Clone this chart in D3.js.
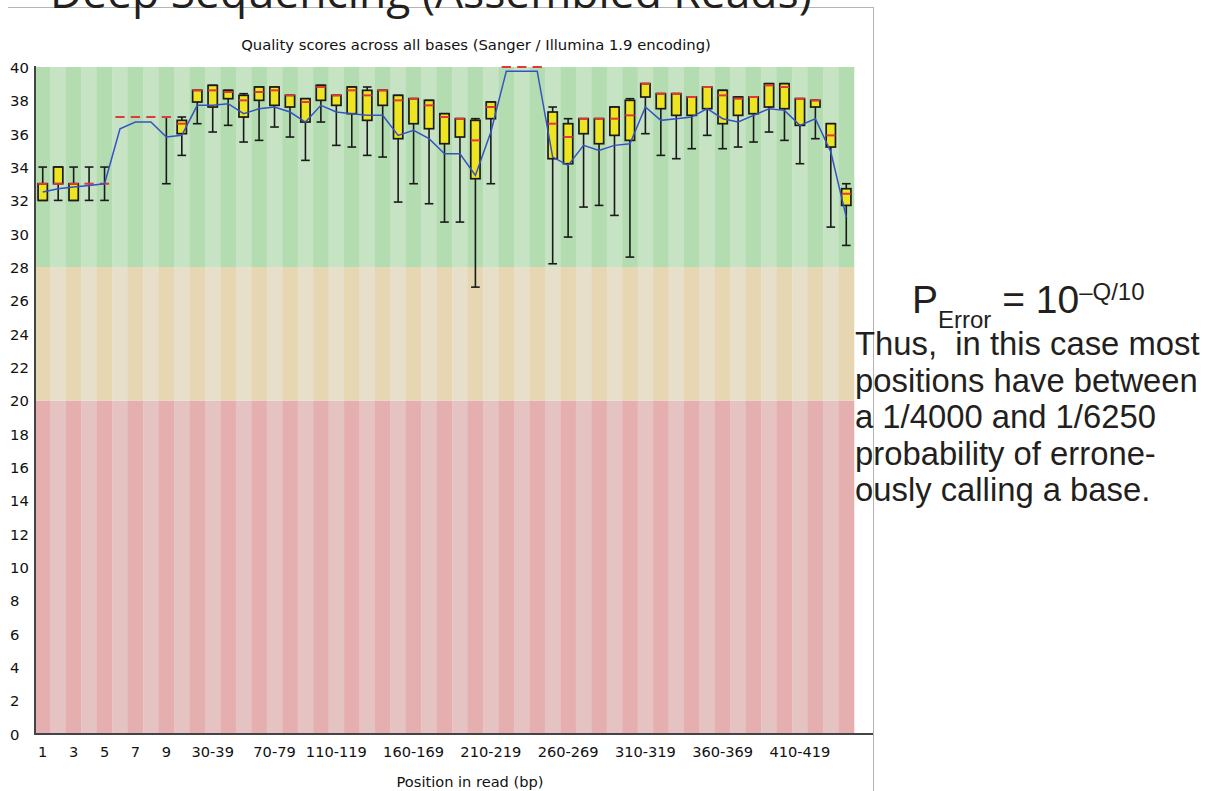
<!DOCTYPE html>
<html>
<head>
<meta charset="utf-8">
<script src="https://cdn.jsdelivr.net/npm/d3@7"></script>
<style>
  body { margin: 0; background: #ffffff; }
  svg { display: block; }
  text { white-space: pre; }
</style>
</head>
<body>
<svg id="chart" width="1206" height="791"></svg>
<script>
// Per-position quality (Phred) summary: 1..9 single bases, then 10 bp bins
const categories = [
  "1","2","3","4","5","6","7","8","9",
  "10-19","20-29","30-39","40-49","50-59","60-69","70-79","80-89","90-99",
  "100-109","110-119","120-129","130-139","140-149","150-159","160-169","170-179","180-189","190-199",
  "200-209","210-219","220-229","230-239","240-249","250-259","260-269","270-279","280-289","290-299",
  "300-309","310-319","320-329","330-339","340-349","350-359","360-369","370-379","380-389","390-399",
  "400-409","410-419","420-429","430-439","440-449"
];

// 10th percentile
const whiskerLow = [32,32,32,32,32, 37,37,37,33,34.7,
  36.6,36.1,36.5,35.5,35.6,36.4,35.8,34.4,36.7,35.3,
  35.2,34.7,34.6,31.9,33.0,31.8,30.7,30.7,26.8,33.0,
  40,40,40,28.2,29.8,31.6,31.7,31.1,28.6,36.0,
  34.7,34.5,35.1,35.9,35.1,35.2,35.5,36.1,35.6,34.2,
  35.7,30.4,29.3];

// lower quartile
const lowerQuartile = [32,33,32,33,33, 37,37,37,37,36.0,
  37.9,37.6,38.1,37.0,38.0,37.7,37.6,36.7,38.0,37.7,
  37.2,36.8,37.7,35.7,36.6,36.3,35.4,35.8,33.3,36.9,
  40,40,40,34.5,34.2,36.0,35.4,35.9,35.6,38.2,
  37.5,37.1,37.1,37.5,36.6,37.1,37.2,37.6,37.5,36.5,
  37.6,35.2,31.7];

// median
const medians = [33,33,33,33,33, 37,37,37,37,36.6,
  38.6,38.6,38.5,38.0,38.5,38.6,38.3,37.9,38.8,38.3,
  38.6,38.3,38.6,38.0,38.1,37.7,37.0,36.9,35.6,37.6,
  40,40,40,36.6,35.8,36.9,36.9,36.9,37.1,39.0,
  38.4,38.4,38.2,38.8,38.3,38.1,38.2,38.9,38.8,38.1,
  38.0,35.9,32.4];

// upper quartile
const upperQuartile = [33,34,33,33,33, 37,37,37,37,36.8,
  38.6,38.9,38.6,38.3,38.8,38.8,38.3,38.1,38.9,38.3,
  38.8,38.6,38.6,38.3,38.1,38.0,37.2,36.9,36.8,37.9,
  40,40,40,37.3,36.6,36.9,36.9,37.6,38.0,39.0,
  38.4,38.4,38.2,38.8,38.6,38.2,38.2,39.0,39.0,38.1,
  38.0,36.6,32.7];

// 90th percentile
const whiskerHigh = [34,34,34,34,34, 37,37,37,37,37.0,
  38.6,38.9,38.6,38.4,38.8,38.8,38.3,38.1,38.9,38.3,
  38.8,38.8,38.6,38.3,38.1,38.0,37.2,36.9,36.9,37.9,
  40,40,40,37.6,36.9,36.9,36.9,37.6,38.1,39.0,
  38.4,38.4,38.2,38.8,38.6,38.2,38.2,39.0,39.0,38.1,
  38.0,36.6,33.0];

// mean quality
const means = [32.5,32.7,32.8,32.9,33.0, 36.3,36.7,36.7,35.8,35.9,
  37.7,37.7,37.8,37.2,37.5,37.6,37.3,36.7,37.7,37.3,
  37.2,37.1,37.1,35.9,36.2,35.7,34.8,34.8,33.5,36.1,
  39.75,39.75,39.75,34.6,34.1,35.3,35.0,35.3,35.4,37.6,
  36.8,36.9,37.0,37.5,36.9,36.7,37.1,37.5,37.4,36.5,
  36.9,34.9,31.0];

const xTickLabels = ["1","3","5","7","9","30-39","70-79","110-119","160-169",
  "210-219","260-269","310-319","360-369","410-419"];
const yTickValues = [0,2,4,6,8,10,12,14,16,18,20,22,24,26,28,30,32,34,36,38,40];

// quality zones (poor / reasonable / good)
const zoneLimits = [[0, 20], [20, 28], [28, 40]];
const zoneColors = [["#e6afaf", "#e6c3c3"], ["#e6d6b1", "#e7dfca"], ["#b3dcb0", "#c6e3c3"]];

const chartTitle = "Quality scores across all bases (Sanger / Illumina 1.9 encoding)";
const xTitle = "Position in read (bp)";
const slideTitle = "Deep Sequencing (Assembled Reads)";
const noteLines = ["Thus,  in this case most", "positions have between",
  "a 1/4000 and 1/6250", "probability of errone-", "ously calling a base."];

const svg = d3.select("#chart");
const plot = { left: 35, right: 854, top: 67, bottom: 734 };
const chartFont = "'DejaVu Sans', Verdana, sans-serif";
const slideFont = "'Liberation Sans', Arial, sans-serif";

const x = d3.scaleBand().domain(categories).range([plot.left, plot.right]);
const y = d3.scaleLinear().domain([0, 40]).range([plot.bottom, plot.top]);
const bw = x.bandwidth();
const cx = c => x(c) + bw / 2;

// frame of the embedded figure
svg.append("line").attr("x1", 8).attr("x2", 873).attr("y1", 7.5).attr("y2", 7.5)
  .attr("stroke", "#b4b4b4").attr("stroke-width", 1);
svg.append("line").attr("x1", 873.5).attr("x2", 873.5).attr("y1", 7).attr("y2", 791)
  .attr("stroke", "#b4b4b4").attr("stroke-width", 1);

// striped quality zones
const bg = svg.append("g");
zoneLimits.forEach((z, zi) => {
  bg.selectAll(null).data(categories).enter().append("rect")
    .attr("x", d => x(d))
    .attr("width", bw + 0.3)
    .attr("y", y(z[1]))
    .attr("height", y(z[0]) - y(z[1]))
    .attr("fill", (d, i) => zoneColors[zi][i % 2]);
});

// axes
const yAxis = svg.append("g").attr("transform", `translate(${plot.left},0)`)
  .call(d3.axisLeft(y).tickValues(yTickValues).tickSize(0));
yAxis.select(".domain").remove();
yAxis.selectAll("text")
  .attr("x", -25).attr("dy", "0.36em")
  .attr("text-anchor", "start")
  .attr("font-family", chartFont).attr("font-size", 14.8).attr("fill", "#111");

const xAxis = svg.append("g").attr("transform", `translate(0,${plot.bottom})`)
  .call(d3.axisBottom(x).tickValues(xTickLabels).tickSize(0));
xAxis.select(".domain").remove();
xAxis.selectAll("text")
  .attr("y", 23).attr("dy", 0)
  .attr("font-family", chartFont).attr("font-size", 14.6).attr("fill", "#111");

svg.append("line").attr("x1", plot.left).attr("x2", plot.left)
  .attr("y1", plot.top - 1).attr("y2", plot.bottom + 1)
  .attr("stroke", "#444").attr("stroke-width", 2);
svg.append("line").attr("x1", plot.left - 1).attr("x2", 873)
  .attr("y1", plot.bottom).attr("y2", plot.bottom)
  .attr("stroke", "#444").attr("stroke-width", 2);

// box plots
const boxW = bw * 0.6;
const capW = bw * 0.56;
const boxes = svg.append("g");
categories.forEach((c, i) => {
  const g = boxes.append("g");
  const xc = cx(c);
  if (whiskerHigh[i] > whiskerLow[i]) {
    g.append("line").attr("x1", xc).attr("x2", xc)
      .attr("y1", y(whiskerHigh[i])).attr("y2", y(whiskerLow[i]))
      .attr("stroke", "#1a1a1a").attr("stroke-width", 1.6);
    [whiskerHigh[i], whiskerLow[i]].forEach(v => {
      g.append("line").attr("x1", xc - capW / 2).attr("x2", xc + capW / 2)
        .attr("y1", y(v)).attr("y2", y(v))
        .attr("stroke", "#1a1a1a").attr("stroke-width", 1.6);
    });
  }
  if (upperQuartile[i] > lowerQuartile[i]) {
    g.append("rect")
      .attr("x", xc - boxW / 2).attr("width", boxW)
      .attr("y", y(upperQuartile[i]))
      .attr("height", y(lowerQuartile[i]) - y(upperQuartile[i]))
      .attr("fill", "#ede522").attr("stroke", "#1a1a1a").attr("stroke-width", 1.7);
  }
  g.append("line").attr("x1", xc - boxW / 2).attr("x2", xc + boxW / 2)
    .attr("y1", y(medians[i])).attr("y2", y(medians[i]))
    .attr("stroke", "#e0393b").attr("stroke-width", 2);
});

// mean line
svg.append("path")
  .datum(categories.map((c, i) => [cx(c), y(means[i])]))
  .attr("d", d3.line())
  .attr("fill", "none").attr("stroke", "#3552c4").attr("stroke-width", 1.5);

// titles
svg.append("text").attr("x", 476).attr("y", 50)
  .attr("text-anchor", "middle").attr("font-family", chartFont).attr("font-size", 14.8)
  .attr("fill", "#111").text(chartTitle);
svg.append("text").attr("x", 470).attr("y", 787)
  .attr("text-anchor", "middle").attr("font-family", chartFont).attr("font-size", 14.6)
  .attr("fill", "#111").text(xTitle);

// slide heading, cut by the top edge
const heading = svg.append("text").attr("x", 50).attr("y", 8)
  .attr("font-family", "'Open Sans', sans-serif").attr("font-size", 40)
  .attr("fill", "#231f20").text(slideTitle);
const hw = heading.node().getComputedTextLength();
heading.attr("font-size", 40 * 762 / hw);

// error probability formula
const formula = svg.append("text").attr("x", 912).attr("y", 313)
  .attr("font-family", slideFont).attr("fill", "#231f20");
formula.append("tspan").attr("font-size", 39).text("P");
formula.append("tspan").attr("font-size", 24).attr("dy", 15).text("Error");
formula.append("tspan").attr("font-size", 39).attr("dy", -15).text(" = 10");
formula.append("tspan").attr("font-size", 24).attr("dy", -13).text("\u2013Q/10");

// explanatory note
svg.append("g").selectAll("text").data(noteLines).enter().append("text")
  .attr("x", 855).attr("y", (d, i) => 355 + i * 36.5)
  .attr("font-family", slideFont).attr("font-size", 32.8)
  .attr("fill", "#231f20").text(d => d);
</script>
</body>
</html>
